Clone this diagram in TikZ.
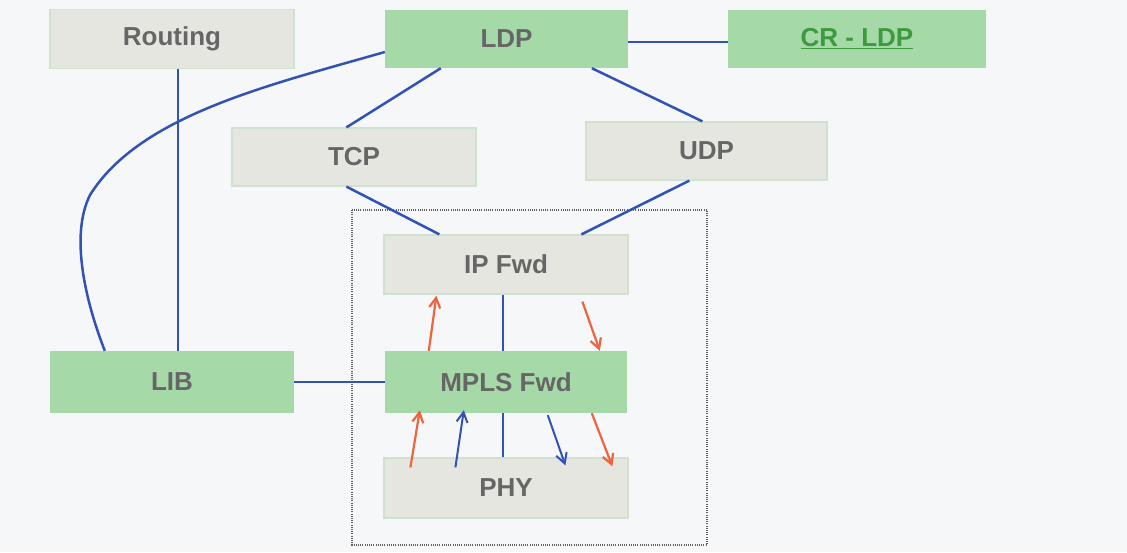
\documentclass[tikz,border=0pt]{standalone}
\usepackage{fontspec}
\setmainfont{Liberation Sans}
\usetikzlibrary{calc,arrows.meta}
\definecolor{bgc}{HTML}{F6F7F8}
\definecolor{grayfill}{HTML}{E6E6E1}
\definecolor{grayedge}{HTML}{CFE2CF}
\definecolor{greenfill}{HTML}{A6D9A8}
\definecolor{txtgray}{HTML}{666666}
\definecolor{txtgreen}{HTML}{3E9A3E}
\definecolor{linkblue}{HTML}{3352B5}
\definecolor{arrorange}{HTML}{EE6440}
\definecolor{dotgray}{HTML}{606060}
\tikzset{
  boxbase/.style={minimum width=244pt, minimum height=59pt, inner sep=0pt,
    font=\fontsize{26}{30}\selectfont\bfseries, text=txtgray},
  graybox/.style={boxbase, fill=grayfill, draw=grayedge, line width=1.2pt},
  greenbox/.style={boxbase, fill=greenfill, draw=none},
  link/.style={draw=linkblue, line width=2.5pt},
  oarrow/.style={draw=arrorange, line width=2.2pt, -{Straight Barb[length=10pt,width=11pt]}},
  barrow/.style={draw=linkblue, line width=2pt, -{Straight Barb[length=10pt,width=11pt]}},
  dotbox/.style={draw=dotgray, line width=1.5pt, dash pattern=on 1pt off 1.2pt}
}
\begin{document}
\begin{tikzpicture}[x=1pt,y=-1pt]
\useasboundingbox (0,0) rectangle (1127,552);
\fill[bgc] (0,0) rectangle (1127,552);

% dotted frame
\draw[dotbox] (352,210) rectangle (707,545);

% boxes
\node[graybox] (routing) at (172,39) {Routing};
\node[greenbox, minimum width=243pt, minimum height=58pt] (ldp) at (506.5,39) {LDP};
\node[greenbox, minimum width=258pt, minimum height=58pt, text=txtgreen] (crldp) at (857,39) {\underline{CR - LDP}};
\node[graybox, minimum height=58pt] (tcp) at (354,157) {TCP};
\node[graybox, minimum width=241pt, minimum height=58pt] (udp) at (706.5,151) {UDP};
\node[graybox] (ip) at (506,264.5) {IP Fwd};
\node[greenbox, minimum height=62pt] (lib) at (172,382) {LIB};
\node[greenbox, minimum width=242pt, minimum height=62pt] (mpls) at (506,382) {MPLS Fwd};
\node[graybox, minimum height=60pt] (phy) at (506,488) {PHY};

% blue links
\draw[link] ($(routing.south)+(6,0)$) -- ($(lib.north)+(6,0)$);
\draw[link] ($(ldp.west)+(0,13)$) .. controls (270,85) and (140,115) .. (90,195)
  .. controls (70,235) and (85,300) .. ($(lib.north west)+(55,0)$);
\draw[link] ($(ldp.south west)+(56,0)$) -- ($(tcp.north west)+(115,0)$);
\draw[link] ($(tcp.south west)+(115,0)$) -- ($(ip.north west)+(56,0)$);
\draw[link] ($(ldp.south west)+(207,0)$) -- ($(udp.north west)+(117,0)$);
\draw[link] ($(udp.south west)+(104,0)$) -- ($(ip.north west)+(198,0)$);
\draw[link] ($(ldp.east)+(0,3)$) -- ($(crldp.west)+(0,3)$);
\draw[link] ($(ip.south)+(-3,0)$) -- ($(mpls.north)+(-3,0)$);
\draw[link] (lib.east) -- (mpls.west);
\draw[link] ($(mpls.south)+(-3,0)$) -- ($(phy.north)+(-3,0)$);

% arrows between IP Fwd and MPLS Fwd
\draw[oarrow] ($(mpls.north west)+(44,0)$) -- ($(ip.south west)+(53,1)$);
\draw[oarrow] ($(ip.south west)+(199,7)$) -- ($(mpls.north west)+(215,0)$);

% arrows between MPLS Fwd and PHY
\draw[oarrow] ($(phy.north west)+(27,10)$) -- ($(mpls.south west)+(35,-3)$);
\draw[barrow] ($(phy.north west)+(72,10)$) -- ($(mpls.south west)+(79,-3)$);
\draw[barrow] ($(mpls.south west)+(163,2)$) -- ($(phy.north west)+(182,8)$);
\draw[oarrow] ($(mpls.south west)+(207,0)$) -- ($(phy.north west)+(229,9)$);
\end{tikzpicture}
\end{document}
